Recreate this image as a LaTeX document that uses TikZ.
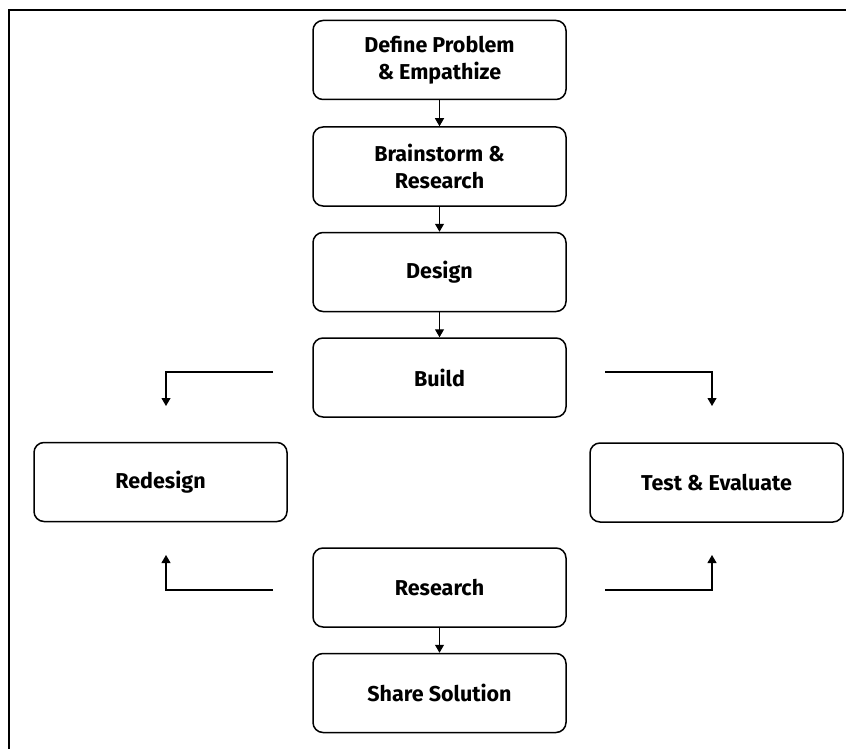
\documentclass[tikz,border=0pt]{standalone}
\usepackage{fontspec}
\setmainfont{Fira Sans}
\usetikzlibrary{arrows.meta}
\begin{document}
\begin{tikzpicture}[x=1pt,y=-1pt,
  stepbox/.style={draw, line width=1.5pt, rounded corners=10pt,
    minimum width=253pt, minimum height=79pt, align=center,
    inner sep=0pt, font=\fontsize{21.5}{27.5}\selectfont\bfseries},
  flow/.style={line width=1.1pt, -{Triangle[width=9pt,length=8pt]}}]
\useasboundingbox (0,0) rectangle (846,749);
% outer frame (top and left edges)
\draw[line width=1.8pt] (9,749) -- (9,10) -- (846,10);

% main column
\node[stepbox] (define) at (439.5,60) {Define Problem\\ \& Empathize};
\node[stepbox] (brain) at (439.5,166.5) {Brainstorm \&\\ Research};
\node[stepbox] (design) at (439.5,272) {Design};
\node[stepbox] (build) at (439.5,377.5) {Build};
\node[stepbox] (redesign) at (160.5,482) {Redesign};
\node[stepbox] (test) at (716.5,482.5) {Test \& Evaluate};
\node[stepbox] (research) at (439.5,587.5) {Research};
\node[stepbox] (share) at (439.5,693) {Share Solution};

\draw[flow] (define) -- (brain);
\draw[flow] (brain) -- (design);
\draw[flow] (design) -- (build);
\draw[flow] (research) -- (share);

% side loops
\coordinate (tl0) at (273,372);
\coordinate (tl1) at (166,406);
\coordinate (tr0) at (605,372);
\coordinate (tr1) at (712,406);
\coordinate (bl0) at (273,590);
\coordinate (bl1) at (166,555);
\coordinate (br0) at (605,590);
\coordinate (br1) at (712,555);
\draw[flow] (tl0) -| (tl1);
\draw[flow] (tr0) -| (tr1);
\draw[flow] (bl0) -| (bl1);
\draw[flow] (br0) -| (br1);
\end{tikzpicture}
\end{document}
